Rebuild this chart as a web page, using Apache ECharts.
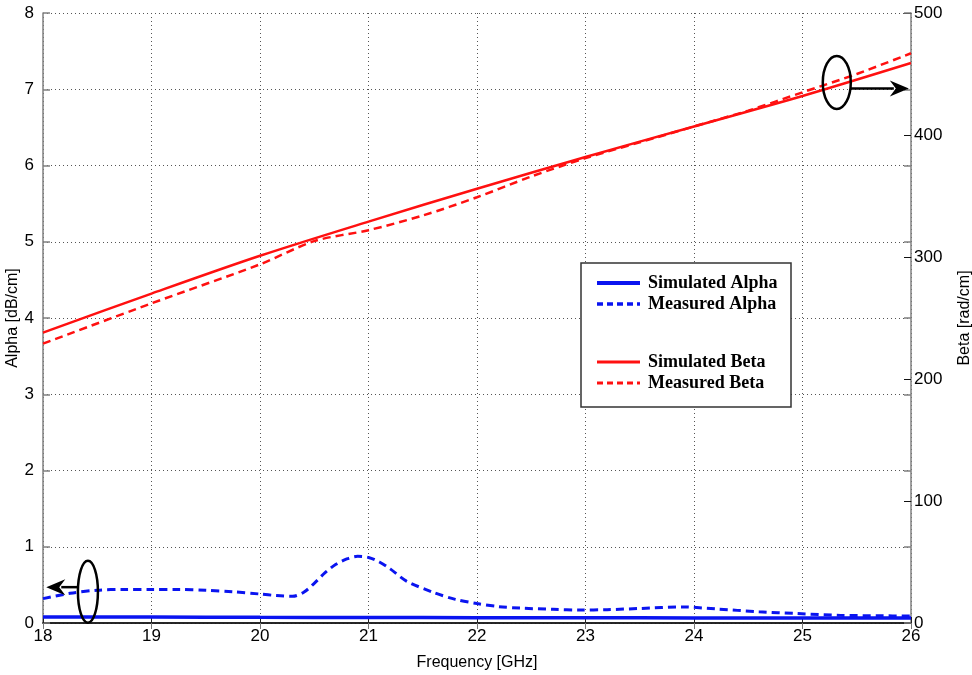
<!DOCTYPE html>
<html>
<head>
<meta charset="utf-8">
<script src="https://cdn.jsdelivr.net/npm/echarts@6/dist/echarts.min.js"></script>
<style>
  html, body { margin: 0; padding: 0; background: #fff; }
  #chart { width: 972px; height: 675px; }
</style>
</head>
<body>
<div id="chart"></div>
<script>
// Frequency sweep, GHz
const freqCoarse = [18, 19, 20, 21, 22, 23, 24, 25, 26];

// Simulated attenuation (dB/cm) and phase constant (rad/cm)
const simAlpha = [0.080, 0.078, 0.074, 0.072, 0.070, 0.068, 0.067, 0.066, 0.066];
const simBeta  = [238, 270, 301, 329, 356, 382, 407, 432, 459];

// Measured phase constant (rad/cm)
const freqBeta = [18, 19, 20, 20.5, 21, 21.5, 22, 22.5, 23, 23.5, 24, 24.5, 25, 25.5, 26];
const measBeta = [229, 262, 294, 313, 322, 334, 349, 366, 381, 394, 407, 420, 435, 450, 467];

// Measured attenuation (dB/cm)
const freqAlpha = [18, 18.25, 18.5, 18.75, 19, 19.25, 19.5, 19.75, 20, 20.15, 20.3, 20.4, 20.5,
                   20.6, 20.7, 20.8, 20.9, 21, 21.1, 21.2, 21.35, 21.6, 21.8, 22, 22.2, 22.4,
                   22.7, 22.95, 23.2, 23.5, 23.9, 24.2, 24.6, 24.95, 25.35, 25.7, 26];
const measAlpha = [0.32, 0.39, 0.43, 0.44, 0.44, 0.44, 0.43, 0.41, 0.38, 0.36, 0.35, 0.40, 0.52,
                   0.66, 0.77, 0.84, 0.875, 0.86, 0.80, 0.71, 0.55, 0.40, 0.31, 0.255, 0.215, 0.195,
                   0.18, 0.17, 0.175, 0.19, 0.21, 0.185, 0.147, 0.124, 0.10, 0.095, 0.09];

// Series names, in legend order
const seriesNames = ['Simulated Alpha', 'Measured Alpha', 'Simulated Beta', 'Measured Beta'];

// Axis tick values
const alphaTicks = { min: 0, max: 8, step: 1 };
const betaTicks  = { min: 0, max: 500, step: 100 };
const freqTicks  = { min: 18, max: 26, step: 1 };

const pairs = (xs, ys) => xs.map((x, i) => [x, ys[i]]);

const FONT = 'Liberation Sans, Arial, sans-serif';
const SERIF = 'Liberation Serif, Times New Roman, serif';
const BLUE = '#0a14f0';
const RED = '#ff1010';
const AXIS_GRAY = '#808080';

const styles = [
  { color: BLUE, width: 3.5, dash: null },
  { color: BLUE, width: 3, dash: [8, 5] },
  { color: RED, width: 2.5, dash: null },
  { color: RED, width: 2.5, dash: [8, 5] }
];

const chart = echarts.init(document.getElementById('chart'), null, { renderer: 'canvas' });

const gridLine = { show: true, lineStyle: { color: '#555', type: [1, 3], width: 1 } };

const option = {
  backgroundColor: '#fff',
  animation: false,
  grid: { left: 43, right: 61, top: 13, bottom: 52, containLabel: false, outerBoundsMode: 'none' },
  xAxis: [
    {
      type: 'value', min: freqTicks.min, max: freqTicks.max, interval: freqTicks.step,
      name: 'Frequency [GHz]', nameLocation: 'middle', nameGap: 32,
      nameTextStyle: { fontFamily: FONT, fontSize: 16, color: '#000' },
      axisLine: { lineStyle: { color: AXIS_GRAY, width: 1.5 } },
      axisTick: { inside: true, length: 6, lineStyle: { color: '#222' } },
      axisLabel: { fontFamily: FONT, fontSize: 17, color: '#000', margin: 5 },
      splitLine: gridLine
    },
    {
      type: 'value', position: 'top', min: freqTicks.min, max: freqTicks.max, interval: freqTicks.step,
      axisLine: { lineStyle: { color: '#000', width: 1.5 } },
      axisTick: { inside: true, length: 6, lineStyle: { color: '#777' } },
      axisLabel: { show: false },
      splitLine: { show: false }
    }
  ],
  yAxis: [
    {
      type: 'value', position: 'left', min: alphaTicks.min, max: alphaTicks.max, interval: alphaTicks.step,
      name: 'Alpha [dB/cm]', nameLocation: 'middle', nameGap: 22, nameRotate: 90, nameMoveOverlap: false,
      nameTextStyle: { fontFamily: FONT, fontSize: 16, color: '#000' },
      axisLine: { show: true, lineStyle: { color: AXIS_GRAY, width: 1.5 } },
      axisTick: { show: true, inside: true, length: 7, lineStyle: { color: AXIS_GRAY, width: 1.5 } },
      axisLabel: { fontFamily: FONT, fontSize: 17, color: '#000', margin: 9 },
      splitLine: gridLine
    },
    {
      type: 'value', position: 'right', min: betaTicks.min, max: betaTicks.max, interval: betaTicks.step,
      name: 'Beta [rad/cm]', nameLocation: 'middle', nameGap: 46, nameRotate: 90,
      nameTextStyle: { fontFamily: FONT, fontSize: 16, color: '#000' },
      axisLine: { show: true, lineStyle: { color: AXIS_GRAY, width: 1.5 } },
      axisTick: { show: true, inside: true, length: 7, lineStyle: { color: '#111', width: 1 } },
      axisLabel: { fontFamily: FONT, fontSize: 17, color: '#000', margin: 3 },
      splitLine: { show: false }
    },
    {
      // marks of the left scale repeated on the right edge
      type: 'value', position: 'right', min: alphaTicks.min, max: alphaTicks.max, interval: alphaTicks.step,
      axisLine: { show: false },
      axisTick: { show: true, inside: true, length: 7, lineStyle: { color: AXIS_GRAY, width: 1.5 } },
      axisLabel: { show: false },
      splitLine: { show: false }
    }
  ],
  series: [
    { xs: freqCoarse, ys: simAlpha, axis: 0 },
    { xs: freqAlpha, ys: measAlpha, axis: 0 },
    { xs: freqCoarse, ys: simBeta, axis: 1 },
    { xs: freqBeta, ys: measBeta, axis: 1 }
  ].map((s, i) => ({
    name: seriesNames[i], type: 'line', xAxisIndex: 0, yAxisIndex: s.axis,
    data: pairs(s.xs, s.ys), showSymbol: false, symbol: 'none', smooth: 0.3,
    lineStyle: { color: styles[i].color, width: styles[i].width, type: styles[i].dash || 'solid' },
    itemStyle: { color: styles[i].color }, z: 3
  }))
};

chart.setOption(option);

// Legend box: two groups of entries with a blank gap between them
const legendBox = { x: 581, y: 263, w: 210, h: 144 };
const legendRowsY = [283, 304, 362, 383];
const legendGraphics = [
  { type: 'rect', shape: { x: legendBox.x, y: legendBox.y, width: legendBox.w, height: legendBox.h },
    style: { fill: '#fff', stroke: '#333', lineWidth: 1.5 }, z: 5 }
];
seriesNames.forEach((name, i) => {
  const y = legendRowsY[i];
  legendGraphics.push({
    type: 'line', shape: { x1: 597, y1: y, x2: 640, y2: y },
    style: { stroke: styles[i].color, lineWidth: styles[i].width + 0.5, lineDash: styles[i].dash ? [6, 4] : null },
    z: 6
  });
  legendGraphics.push({
    type: 'text', x: 648, y: y,
    style: { text: name, font: 'bold 18px ' + SERIF, fill: '#000', textVerticalAlign: 'middle', verticalAlign: 'middle' },
    z: 6
  });
});

// Ellipses with arrows pointing each curve pair to its own axis
const toPx = (f, a) => chart.convertToPixel({ xAxisIndex: 0, yAxisIndex: 0 }, [f, a]);

const leftMark = { center: [18.414, 0.41], rx: 10, ry: 31, arrowY: 0.47, tipF: 18.03, dir: -1 };
const rightMark = { center: [25.316, 7.09], rx: 14, ry: 26.5, arrowY: 7.01, tipF: 25.98, dir: 1 };

function markGraphics(m) {
  const c = toPx(m.center[0], m.center[1]);
  const tip = toPx(m.tipF, m.arrowY);
  const startX = c[0] + m.dir * m.rx;
  const headLen = 19, headHalf = 8;
  const baseX = tip[0] - m.dir * headLen;
  return [
    { type: 'ellipse', shape: { cx: c[0], cy: c[1], rx: m.rx, ry: m.ry },
      style: { fill: 'none', stroke: '#000', lineWidth: 2.5 }, z: 10 },
    { type: 'line', shape: { x1: startX, y1: tip[1], x2: baseX + m.dir * 4, y2: tip[1] },
      style: { stroke: '#000', lineWidth: 2.5 }, z: 10 },
    { type: 'polygon', shape: { points: [[tip[0], tip[1]], [baseX, tip[1] - headHalf], [baseX + m.dir * 6, tip[1]], [baseX, tip[1] + headHalf]] },
      style: { fill: '#000' }, z: 10 }
  ];
}

chart.setOption({
  graphic: [
    ...legendGraphics,
    ...markGraphics(leftMark),
    ...markGraphics(rightMark)
  ]
});
</script>
</body>
</html>
